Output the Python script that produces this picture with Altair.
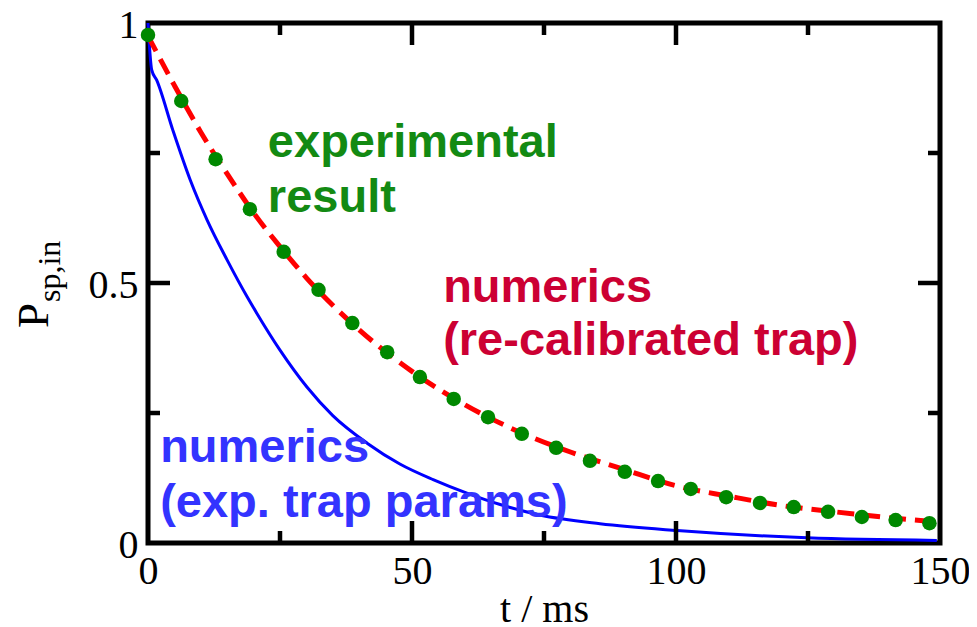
import altair as alt
import pandas as pd

# ---- data ----
# experimental result (green dots)
exp_t = [0, 6.3, 12.8, 19.3, 25.7, 32.3, 38.7, 45.3, 51.5, 57.9, 64.4, 70.8,
         77.3, 83.7, 90.3, 96.6, 102.8, 109.5, 115.9, 122.3, 128.8, 135.2, 141.6, 148.0]
exp_p = [0.977, 0.850, 0.738, 0.642, 0.560, 0.487, 0.423, 0.367, 0.319, 0.277, 0.242, 0.210,
         0.183, 0.158, 0.137, 0.119, 0.104, 0.088, 0.077, 0.069, 0.060, 0.050, 0.044, 0.038]

# numerics, re-calibrated trap (red dashed)
red_t = [0, 5, 10, 15, 20, 25, 30, 40, 50, 60, 70, 80, 90, 100, 110, 120, 130, 140, 150]
red_p = [0.975, 0.88, 0.79, 0.71, 0.635, 0.57, 0.51, 0.41, 0.33, 0.266, 0.215, 0.175,
         0.142, 0.11, 0.09, 0.072, 0.060, 0.049, 0.040]

# numerics, exp. trap params (blue solid)
blue_t = [0, 0.7, 1.65, 4.7, 8.0, 11.2, 15.0, 18.8, 20.6, 25.0, 30.1, 35.0, 41.5, 47.7,
          54.0, 60.4, 66.7, 74.2, 85.6, 100.2, 124.8, 149.4]
blue_p = [1.0, 0.91, 0.89, 0.794, 0.698, 0.621, 0.544, 0.473, 0.442, 0.371, 0.300, 0.245,
          0.192, 0.152, 0.122, 0.096, 0.074, 0.054, 0.037, 0.024, 0.010, 0.005]

# axis ticks / labels
x_labels = [0, 50, 100, 150]
y_labels = [0, 0.5, 1]
x_major = [50, 100]
x_minor = [25, 75, 125]
y_major = [0.5]
y_minor = [0.25, 0.75]

# annotations
ann_text = ["experimental", "result", "numerics", "(re-calibrated trap)",
            "numerics", "(exp. trap params)"]
ann_t = [22.7, 22.7, 55.9, 55.9, 2.3, 2.3]
ann_p = [0.742, 0.637, 0.4635, 0.3615, 0.156, 0.050]
ann_col = ["#138a13", "#138a13", "#cc0033", "#cc0033", "#3333ff", "#3333ff"]

# ---- chart ----
W, H = 792, 520
SERIF = "Liberation Serif"
SANS = "Liberation Sans"
X0, X1, Y0, Y1 = 0.0, 150.0, 0.0, 1.0
MAJ, MIN = 22, 12  # tick lengths in px

xs = alt.Scale(domain=[X0, X1], nice=False, zero=False)
ys = alt.Scale(domain=[Y0, Y1], nice=False, zero=False)

x_axis = alt.Axis(values=x_labels, format="d", ticks=False, tickSize=0, domain=False,
                  grid=False, labelFont=SERIF, labelFontSize=40, labelColor="black",
                  labelBaseline="alphabetic", labelPadding=40, labelFlush=False,
                  labelOverlap=False, title="t / ms", titleFont=SERIF, titleFontSize=40,
                  titleFontWeight="normal", titleColor="black",
                  titleBaseline="alphabetic", titleY=78)
y_axis = alt.Axis(values=y_labels, format="~g", ticks=False, tickSize=0, domain=False,
                  grid=False, labelFont=SERIF, labelFontSize=40, labelColor="black",
                  labelBaseline="middle", labelPadding=10, labelOffset=2, labelFlush=False,
                  labelOverlap=False, title=None)


def X(field="t"):
    return alt.X(f"{field}:Q", scale=xs, axis=x_axis)


def Y(field="p"):
    return alt.Y(f"{field}:Q", scale=ys, axis=y_axis)


exp_df = pd.DataFrame({"t": exp_t, "p": exp_p})
red_df = pd.DataFrame({"t": red_t, "p": red_p})
blue_df = pd.DataFrame({"t": blue_t, "p": blue_p})
ann_df = pd.DataFrame({"t": ann_t, "p": ann_p, "label": ann_text, "c": ann_col})

blue = alt.Chart(blue_df).mark_line(color="#0000ff", strokeWidth=3,
                                    interpolate="monotone").encode(x=X(), y=Y())
red = alt.Chart(red_df).mark_line(color="#ff0000", strokeWidth=5, strokeDash=[17, 9],
                                  interpolate="monotone").encode(x=X(), y=Y())
dots = alt.Chart(exp_df).mark_point(filled=True, color="#008800", size=210,
                                    opacity=1).encode(x=X(), y=Y())

ann = alt.Chart(ann_df).mark_text(font=SANS, fontWeight="bold", fontSize=47,
                                  align="left", baseline="alphabetic").encode(
    x=X(), y=Y(), text="label:N", color=alt.Color("c:N", scale=None))

# inward ticks on all four sides, expressed in data units via the scales
dy_per_px = (Y1 - Y0) / H
dx_per_px = (X1 - X0) / W
xt_rows = []
for vals, ln in [(x_major, MAJ), (x_minor, MIN)]:
    for v in vals:
        xt_rows.append({"t": v, "p": Y0, "p2": Y0 + ln * dy_per_px})
        xt_rows.append({"t": v, "p": Y1, "p2": Y1 - ln * dy_per_px})
yt_rows = []
for vals, ln in [(y_major, MAJ), (y_minor, MIN)]:
    for v in vals:
        yt_rows.append({"p": v, "t": X0, "t2": X0 + ln * dx_per_px})
        yt_rows.append({"p": v, "t": X1, "t2": X1 - ln * dx_per_px})

xticks = alt.Chart(pd.DataFrame(xt_rows)).mark_rule(color="black", strokeWidth=4.5).encode(
    x=X(), y=Y(), y2="p2:Q")
yticks = alt.Chart(pd.DataFrame(yt_rows)).mark_rule(color="black", strokeWidth=4.5).encode(
    x=X(), x2="t2:Q", y=Y())

# y-axis title: P with subscript "sp,in", rotated
one = pd.DataFrame({"a": [0]})
p_main = alt.Chart(one).mark_text(text="P", font=SERIF, fontSize=45, angle=270,
                                  align="left", baseline="alphabetic",
                                  color="black").encode(x=alt.value(-100), y=alt.value(305))
p_sub = alt.Chart(one).mark_text(text="sp,in", font=SERIF, fontSize=32, angle=270,
                                 align="left", baseline="alphabetic",
                                 color="black").encode(x=alt.value(-88), y=alt.value(279))

chart = alt.layer(blue, red, dots, ann, xticks, yticks, p_main, p_sub).properties(
    width=W, height=H,
    background="white",
    autosize=alt.AutoSizeParams(type="none"),
    padding={"left": 140, "top": 15, "right": 29, "bottom": 84},
).configure_view(stroke="black", strokeWidth=5)

chart.save("out.html", embed_options={"renderer": "svg", "actions": False})
